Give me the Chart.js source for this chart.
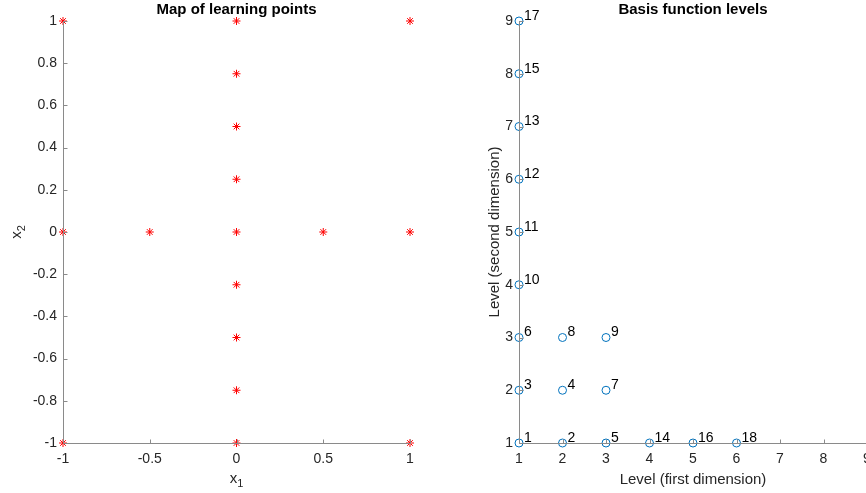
<!DOCTYPE html>
<html>
<head>
<meta charset="utf-8">
<script src="https://cdn.jsdelivr.net/npm/chart.js@4"></script>
<style>
  html, body { margin: 0; padding: 0; background: #fff; overflow: hidden; width: 866px; height: 493px; }
  .box { position: absolute; top: 0; height: 493px; }
  #leftBox { left: 0; width: 440px; }
  #rightBox { left: 440px; width: 440px; }
</style>
</head>
<body>
<div class="box" id="leftBox"><canvas id="mapChart" width="440" height="493"></canvas></div>
<div class="box" id="rightBox"><canvas id="levelChart" width="440" height="493"></canvas></div>
<script>
// learning points (left plot)
const pointX1 = [-1, 0, 1, 0, 0, 0, -1, -0.5, 0, 0.5, 1, 0, 0, 0, -1, 0, 1];
const pointX2 = [1, 1, 1, 0.75, 0.5, 0.25, 0, 0, 0, 0, 0, -0.25, -0.5, -0.75, -1, -1, -1];
const mapTicksX = [-1, -0.5, 0, 0.5, 1];
const mapTicksY = [-1, -0.8, -0.6, -0.4, -0.2, 0, 0.2, 0.4, 0.6, 0.8, 1];

// basis function levels (right plot)
const basisIds = [1, 2, 3, 4, 5, 6, 7, 8, 9, 10, 11, 12, 13, 14, 15, 16, 17, 18];
const levelFirst = [1, 2, 1, 2, 3, 1, 3, 2, 3, 1, 1, 1, 1, 4, 1, 5, 1, 6];
const levelSecond = [1, 1, 2, 2, 1, 3, 2, 3, 3, 4, 5, 6, 7, 1, 8, 1, 9, 1];
const levelTicks = [1, 2, 3, 4, 5, 6, 7, 8, 9];

const FONT = '"Liberation Sans", Arial, sans-serif';
const TEXT = '#262626';

// draws "base" with a subscript, centred on cx
function drawSub(ctx, base, sub, cx, cy) {
  ctx.font = '15px ' + FONT;
  const wb = ctx.measureText(base).width;
  ctx.font = '11px ' + FONT;
  const ws = ctx.measureText(sub).width;
  const left = cx - (wb + ws) / 2;
  ctx.textAlign = 'left';
  ctx.textBaseline = 'middle';
  ctx.font = '15px ' + FONT;
  ctx.fillText(base, left, cy);
  ctx.font = '11px ' + FONT;
  ctx.fillText(sub, left + wb, cy + 5);
}

// MATLAB-like axes: left/bottom lines with inward ticks, drawn over the data
const matlabAxes = {
  id: 'matlabAxes',
  afterDatasetsDraw(chart, args, opts) {
    const { ctx, chartArea: a, scales: { x, y } } = chart;
    ctx.save();
    ctx.strokeStyle = '#8a8a8a';
    ctx.lineWidth = 1;
    const bx = Math.round(a.left) + 0.5;
    const by = Math.round(a.bottom) + 0.5;
    ctx.beginPath();
    ctx.moveTo(bx, a.top);
    ctx.lineTo(bx, by);
    ctx.lineTo(a.right + 1, by);
    x.ticks.forEach(t => {
      const px = Math.round(x.getPixelForValue(t.value)) + 0.5;
      ctx.moveTo(px, by);
      ctx.lineTo(px, by - 4);
    });
    y.ticks.forEach(t => {
      const py = Math.round(y.getPixelForValue(t.value)) + 0.5;
      ctx.moveTo(bx, py);
      ctx.lineTo(bx + 4, py);
    });
    ctx.stroke();

    // point labels
    if (opts.pointLabels) {
      ctx.fillStyle = '#000';
      ctx.font = '14px ' + FONT;
      ctx.textAlign = 'left';
      ctx.textBaseline = 'middle';
      chart.getDatasetMeta(0).data.forEach((el, i) => {
        ctx.fillText(String(opts.pointLabels[i]), el.x + 5, el.y - 5);
      });
    }

    // title
    const cx = (a.left + a.right) / 2;
    ctx.fillStyle = '#000';
    ctx.font = 'bold 15px ' + FONT;
    ctx.textAlign = 'center';
    ctx.textBaseline = 'middle';
    ctx.fillText(opts.title, cx, 10);

    // axis titles
    ctx.fillStyle = TEXT;
    const cy = (a.top + a.bottom) / 2;
    if (opts.xSub) {
      drawSub(ctx, opts.xTitle, opts.xSub, cx, 479);
    } else {
      ctx.font = '15px ' + FONT;
      ctx.textAlign = 'center';
      ctx.fillText(opts.xTitle, cx, 480);
    }
    ctx.save();
    ctx.translate(opts.yTitleX, cy);
    ctx.rotate(-Math.PI / 2);
    if (opts.ySub) {
      drawSub(ctx, opts.yTitle, opts.ySub, 0, 0);
    } else {
      ctx.font = '15px ' + FONT;
      ctx.textAlign = 'center';
      ctx.fillText(opts.yTitle, 0, 0);
    }
    ctx.restore();
    ctx.restore();
  }
};

function axis(tickList, min, max, pad, fixed, horizontal) {
  return {
    type: 'linear',
    min: min,
    max: max,
    grid: { display: false, drawTicks: false, tickLength: 0 },
    border: { display: false },
    afterBuildTicks: s => { s.ticks = tickList.map(v => ({ value: v })); },
    afterFit: s => { if (horizontal) s.height = fixed; else s.width = fixed; },
    ticks: {
      padding: pad,
      color: TEXT,
      font: { family: FONT, size: 14 },
      callback: v => String(v)
    }
  };
}

new Chart(document.getElementById('mapChart'), {
  type: 'scatter',
  data: {
    datasets: [{
      data: pointX1.map((v, i) => ({ x: v, y: pointX2[i] })),
      pointStyle: 'star',
      radius: 4,
      borderColor: '#ff0000',
      backgroundColor: '#ff0000',
      borderWidth: 1,
      clip: false
    }]
  },
  options: {
    responsive: false,
    animation: false,
    layout: { padding: { left: 0, right: 30, top: 21, bottom: 0 } },
    scales: {
      x: axis(mapTicksX, -1, 1, 8, 50, true),
      y: axis(mapTicksY, -1, 1, 6, 63, false)
    },
    plugins: {
      legend: { display: false },
      tooltip: { enabled: false },
      matlabAxes: {
        title: 'Map of learning points',
        xTitle: 'x', xSub: '1',
        yTitle: 'x', ySub: '2', yTitleX: 17
      }
    }
  },
  plugins: [matlabAxes]
});

new Chart(document.getElementById('levelChart'), {
  type: 'scatter',
  data: {
    datasets: [{
      data: levelFirst.map((v, i) => ({ x: v, y: levelSecond[i] })),
      pointStyle: 'circle',
      radius: 4,
      borderColor: '#0072BD',
      backgroundColor: 'rgba(0,0,0,0)',
      borderWidth: 1,
      clip: false
    }]
  },
  options: {
    responsive: false,
    animation: false,
    layout: { padding: { left: 0, right: 13, top: 21, bottom: 0 } },
    scales: {
      x: axis(levelTicks, 1, 9, 8, 50, true),
      y: axis(levelTicks, 1, 9, 6, 79, false)
    },
    plugins: {
      legend: { display: false },
      tooltip: { enabled: false },
      matlabAxes: {
        title: 'Basis function levels',
        xTitle: 'Level (first dimension)',
        yTitle: 'Level (second dimension)', yTitleX: 55,
        pointLabels: basisIds
      }
    }
  },
  plugins: [matlabAxes]
});
</script>
</body>
</html>
